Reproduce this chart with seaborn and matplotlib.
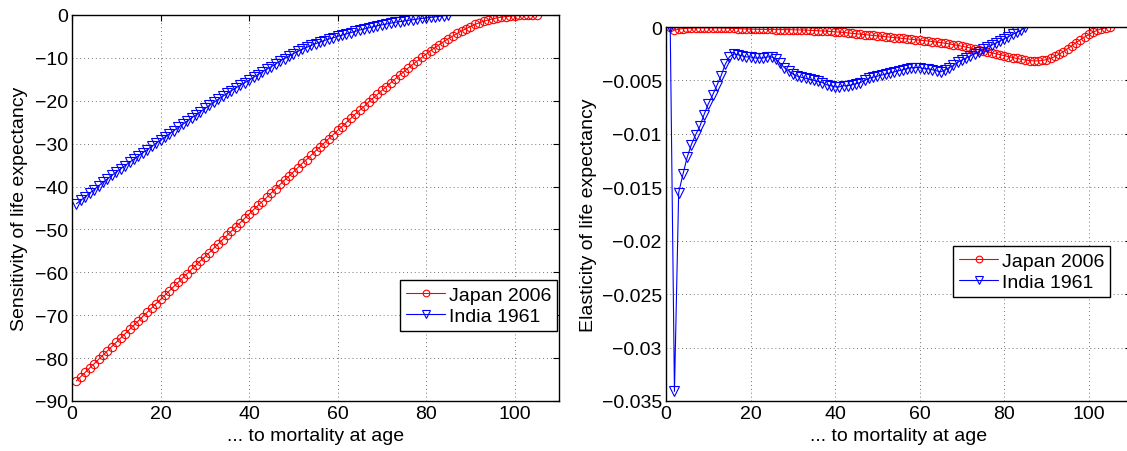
import matplotlib
matplotlib.use("Agg")
import matplotlib.pyplot as plt
import seaborn as sns
import pandas as pd
from matplotlib.ticker import FuncFormatter, FixedLocator

# ---------------- data ----------------
japan_ages = list(range(1, 106))
india_ages = list(range(1, 86))

japan_sens = [
    -85.3, -84.3, -83.3, -82.3, -81.3, -80.3, -79.3, -78.3, -77.3, -76.3,
    -75.3, -74.3, -73.3, -72.3, -71.3, -70.3, -69.3, -68.3, -67.3, -66.3,
    -65.3, -64.3, -63.3, -62.3, -61.3, -60.3, -59.3, -58.3, -57.3, -56.4,
    -55.4, -54.4, -53.4, -52.4, -51.4, -50.4, -49.4, -48.4, -47.4, -46.4,
    -45.4, -44.4, -43.5, -42.5, -41.5, -40.5, -39.5, -38.5, -37.6, -36.6,
    -35.6, -34.6, -33.7, -32.7, -31.7, -30.8, -29.8, -28.8, -27.9, -26.9,
    -26.0, -25.0, -24.1, -23.1, -22.2, -21.3, -20.3, -19.4, -18.5, -17.6,
    -16.7, -15.8, -14.9, -14.0, -13.2, -12.3, -11.5, -10.7, -9.9, -9.1,
    -8.3, -7.6, -6.9, -6.2, -5.5, -4.9, -4.3, -3.7, -3.2, -2.7,
    -2.2, -1.8, -1.45, -1.15, -0.9, -0.68, -0.5, -0.36, -0.25, -0.17,
    -0.11, -0.07, -0.04, -0.02, 0.0,
]

india_sens = [
    -44.0, -43.2, -42.4, -41.55, -40.7, -39.85, -39.0, -38.2, -37.4, -36.6,
    -35.85, -35.1, -34.35, -33.6, -32.85, -32.1, -31.4, -30.65, -29.9, -29.2,
    -28.45, -27.7, -26.95, -26.2, -25.5, -24.75, -24.0, -23.3, -22.55, -21.8,
    -21.1, -20.4, -19.7, -19.0, -18.3, -17.65, -17.0, -16.4, -15.8, -15.2,
    -14.55, -13.9, -13.25, -12.65, -12.05, -11.45, -10.7, -10.15, -9.55, -9.0,
    -8.5, -8.0, -7.55, -7.1, -6.7, -6.3, -5.95, -5.6, -5.3, -5.0,
    -4.7, -4.4, -4.1, -3.8, -3.5, -3.25, -3.0, -2.75, -2.5, -2.3,
    -2.1, -1.9, -1.7, -1.55, -1.4, -1.25, -1.1, -0.95, -0.8, -0.68,
    -0.55, -0.42, -0.3, -0.15, 0.0,
]

japan_elas = [
    0.0, -0.00030, -0.00020, -0.00015, -0.00012, -0.00010, -0.00009, -0.00008, -0.00008, -0.00008,
    -0.00008, -0.00008, -0.00009, -0.00010, -0.00011, -0.00013, -0.00015, -0.00017, -0.00019, -0.00020,
    -0.00021, -0.00022, -0.00022, -0.00023, -0.00023, -0.00024, -0.00024, -0.00025, -0.00025, -0.00026,
    -0.00027, -0.00028, -0.00029, -0.00031, -0.00033, -0.00035, -0.00037, -0.00039, -0.00042, -0.00045,
    -0.00048, -0.00051, -0.00055, -0.00059, -0.00063, -0.00067, -0.00071, -0.00075, -0.00079, -0.00083,
    -0.00087, -0.00091, -0.00095, -0.00099, -0.00103, -0.00107, -0.00111, -0.00115, -0.00119, -0.00123,
    -0.00127, -0.00131, -0.00136, -0.00141, -0.00146, -0.00152, -0.00158, -0.00165, -0.00172, -0.00180,
    -0.00188, -0.00196, -0.00205, -0.00214, -0.00223, -0.00232, -0.00241, -0.00250, -0.00259, -0.00268,
    -0.00277, -0.00286, -0.00294, -0.00302, -0.00309, -0.00314, -0.00317, -0.00317, -0.00313, -0.00305,
    -0.00293, -0.00276, -0.00255, -0.00230, -0.00203, -0.00175, -0.00147, -0.00120, -0.00094, -0.00070,
    -0.00049, -0.00031, -0.00017, -0.00007, -0.00002,
]

india_elas = [
    0.0, -0.0341, -0.0155, -0.0138, -0.0122, -0.0110, -0.0101, -0.0093, -0.0082, -0.0072,
    -0.0064, -0.0055, -0.0046, -0.0035, -0.0028, -0.0025, -0.0026, -0.0027, -0.0028, -0.0028,
    -0.0029, -0.0029, -0.0029, -0.0028, -0.0028, -0.0030, -0.0034, -0.0038, -0.0041, -0.0044,
    -0.0046, -0.0047, -0.0048, -0.0049, -0.0050, -0.0051, -0.0052, -0.0054, -0.0055, -0.0056,
    -0.0056, -0.0055, -0.0055, -0.0054, -0.0053, -0.0052, -0.0050, -0.0048, -0.0047, -0.0046,
    -0.0045, -0.0044, -0.0043, -0.0042, -0.0041, -0.0040, -0.0039, -0.0038, -0.0038, -0.0038,
    -0.0039, -0.0039, -0.0040, -0.0041, -0.0042, -0.0040, -0.0038, -0.0036, -0.0033, -0.0031,
    -0.0029, -0.0027, -0.0025, -0.0023, -0.0021, -0.0019, -0.0017, -0.0015, -0.0013, -0.0011,
    -0.0009, -0.0007, -0.0005, -0.0003, 0.0,
]

series_names = ["Japan 2006", "India 1961"]
left_yticks = [0, -10, -20, -30, -40, -50, -60, -70, -80, -90]
right_yticks = [0, -0.005, -0.01, -0.015, -0.02, -0.025, -0.03, -0.035]
xticks = [0, 20, 40, 60, 80, 100]

# ---------------- style ----------------
sns.set_style("white")
plt.rcParams["font.family"] = ["Liberation Sans", "DejaVu Sans"]
plt.rcParams["font.size"] = 14
plt.rcParams["axes.unicode_minus"] = True
plt.rcParams["text.color"] = "black"
plt.rcParams["axes.labelcolor"] = "black"
plt.rcParams["xtick.color"] = "black"
plt.rcParams["ytick.color"] = "black"
plt.rcParams["legend.labelcolor"] = "black"

fig = plt.figure(figsize=(11.27, 4.52), dpi=100)
W, H = 1127.0, 452.0
ax1 = fig.add_axes([72 / W, (H - 402) / H, 487 / W, 386 / H])
ax2 = fig.add_axes([666 / W, (H - 402) / H, 465 / W, 374 / H])

red_kw = dict(color="#ff0000", marker="o", markersize=6, markerfacecolor="none",
              markeredgecolor="#ff0000", markeredgewidth=0.8, linewidth=0.8)
blue_kw = dict(color="#0000ff", marker="v", markersize=6.5, markerfacecolor="none",
               markeredgecolor="#0000ff", markeredgewidth=0.8, linewidth=0.8)


def fmt(v, pos):
    s = f"{v:g}"
    if s == "-0":
        s = "0"
    return s.replace("-", "\u2212")


def draw(ax, jy, iy, ylabel, yticks, ylim, leg_anchor):
    dj = pd.DataFrame({"age": japan_ages, "val": jy})
    di = pd.DataFrame({"age": india_ages, "val": iy})
    sns.lineplot(data=dj, x="age", y="val", ax=ax, sort=False, estimator=None,
                 label=series_names[0], **red_kw)
    sns.lineplot(data=di, x="age", y="val", ax=ax, sort=False, estimator=None,
                 label=series_names[1], **blue_kw)
    ax.set_xlim(0, 110)
    ax.set_ylim(*ylim)
    ax.xaxis.set_major_locator(FixedLocator(xticks))
    ax.yaxis.set_major_locator(FixedLocator(yticks))
    ax.yaxis.set_major_formatter(FuncFormatter(fmt))
    ax.xaxis.set_major_formatter(FuncFormatter(fmt))
    ax.grid(True, linestyle=(0, (1, 3)), color="0.45", linewidth=0.7)
    ax.tick_params(direction="in", length=4, width=0.8, top=True, right=True,
                   labelsize=14, pad=3, colors="black")
    for sp in ax.spines.values():
        sp.set_visible(True)
        sp.set_color("black")
        sp.set_linewidth(1.0)
    ax.set_xlabel("... to mortality at age", fontsize=14, color="black")
    ax.set_ylabel(ylabel, fontsize=14, color="black")
    leg = ax.legend(loc="lower right", bbox_to_anchor=leg_anchor, frameon=True,
                    fancybox=False, edgecolor="black", framealpha=1,
                    handlelength=2.0, handletextpad=0.2, borderpad=0.3,
                    labelspacing=0.2, borderaxespad=0, fontsize=14,
                    markerscale=0.8)
    leg.get_frame().set_linewidth(1.0)
    for t in leg.get_texts():
        t.set_color("black")


draw(ax1, japan_sens, india_sens, "Sensitivity of life expectancy",
     left_yticks, (-90, 0), (0.996, 0.181))
draw(ax2, japan_elas, india_elas, "Elasticity of life expectancy",
     right_yticks, (-0.035, 0), (0.955, 0.278))

ax1.yaxis.set_label_coords(-0.090, 0.5)
ax2.yaxis.set_label_coords(-0.148, 0.5)
ax1.xaxis.set_label_coords(0.5, -0.067)
ax2.xaxis.set_label_coords(0.5, -0.070)

fig.savefig("out.png", dpi=100)
